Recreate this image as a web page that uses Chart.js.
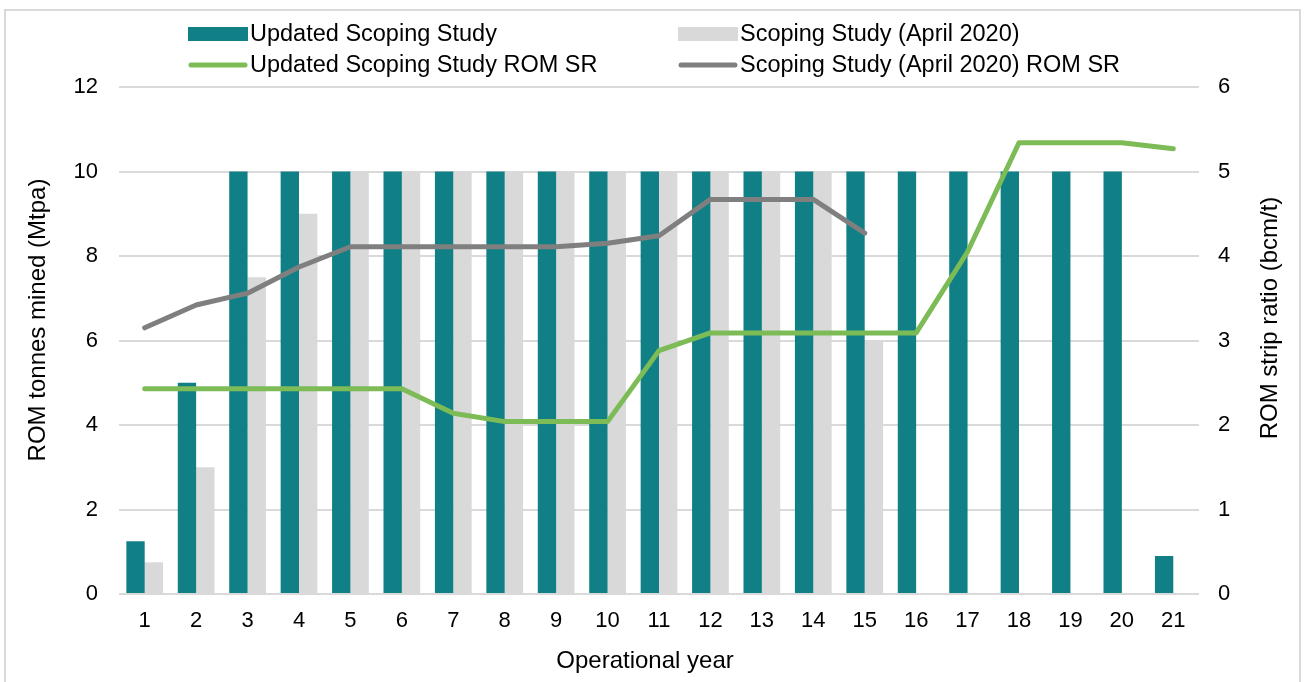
<!DOCTYPE html>
<html>
<head>
<meta charset="utf-8">
<script src="https://cdn.jsdelivr.net/npm/chart.js@4/dist/chart.umd.min.js"></script>
<style>
  html, body { margin: 0; padding: 0; background: #fff; overflow: hidden; }
  #wrap { position: relative; width: 1307px; height: 682px; }
  #frame { position: absolute; left: 4px; top: 9px; width: 1297px; height: 700px; border: 2px solid #d9d9d9; box-sizing: border-box; }
  canvas { position: absolute; left: 0; top: 0; }
</style>
</head>
<body>
<div id="wrap">
  <div id="frame"></div>
  <canvas id="c" width="1307" height="682"></canvas>
</div>
<script>
const years = ['1','2','3','4','5','6','7','8','9','10','11','12','13','14','15','16','17','18','19','20','21'];
const updatedTonnes = [1.25, 5, 10, 10, 10, 10, 10, 10, 10, 10, 10, 10, 10, 10, 10, 10, 10, 10, 10, 10, 0.9];
const scopingTonnes = [0.75, 3, 7.5, 9, 10, 10, 10, 10, 10, 10, 10, 10, 10, 10, 6, null, null, null, null, null, null];
const updatedSR = [2.43, 2.43, 2.43, 2.43, 2.43, 2.43, 2.14, 2.04, 2.04, 2.04, 2.88, 3.09, 3.09, 3.09, 3.09, 3.09, 4.05, 5.34, 5.34, 5.34, 5.27];
const scopingSR = [3.15, 3.42, 3.56, 3.87, 4.11, 4.11, 4.11, 4.11, 4.11, 4.15, 4.24, 4.67, 4.67, 4.67, 4.27, null, null, null, null, null, null];
const leftTicks = [0, 2, 4, 6, 8, 10, 12];
const rightTicks = [0, 1, 2, 3, 4, 5, 6];
const labels = {
  updated: 'Updated Scoping Study',
  scoping: 'Scoping Study (April 2020)',
  updatedSR: 'Updated Scoping Study ROM SR',
  scopingSR: 'Scoping Study (April 2020) ROM SR',
  xTitle: 'Operational year',
  yTitle: 'ROM tonnes mined (Mtpa)',
  y1Title: 'ROM strip ratio (bcm/t)'
};

const FONT = 'Liberation Sans, Arial, sans-serif';
const FS = 22;
const FS_LEG = 23.5;
const FS_TITLE = 24;
const TEAL = '#108086';
const LIGHT = '#d9d9d9';
const GREEN = '#7cbb55';
const GREY = '#7f7f7f';

const legendPlugin = {
  id: 'customLegend',
  afterDraw(chart) {
    const ctx = chart.ctx;
    const items = [
      { ds: 0, x: 188, y: 34 },
      { ds: 1, x: 678, y: 34 },
      { ds: 2, x: 188, y: 65 },
      { ds: 3, x: 678, y: 65 }
    ];
    ctx.save();
    ctx.font = FS_LEG + 'px ' + FONT;
    ctx.textBaseline = 'middle';
    ctx.textAlign = 'left';
    items.forEach(it => {
      const d = chart.data.datasets[it.ds];
      if (d.type === 'bar') {
        ctx.fillStyle = d.backgroundColor;
        ctx.fillRect(it.x, it.y - 7, 60, 14);
      } else {
        ctx.strokeStyle = d.borderColor;
        ctx.lineWidth = 5;
        ctx.lineCap = 'round';
        ctx.beginPath();
        ctx.moveTo(it.x + 3, it.y);
        ctx.lineTo(it.x + 57, it.y);
        ctx.stroke();
      }
      ctx.fillStyle = '#000';
      ctx.fillText(d.label, it.x + 62, it.y + 1);
    });
    // axis titles
    ctx.font = FS_TITLE + 'px ' + FONT;
    ctx.textAlign = 'center';
    ctx.save();
    ctx.translate(38, 320);
    ctx.rotate(-Math.PI / 2);
    ctx.fillText(labels.yTitle, 0, 0);
    ctx.restore();
    ctx.save();
    ctx.translate(1270, 318);
    ctx.rotate(-Math.PI / 2);
    ctx.fillText(labels.y1Title, 0, 0);
    ctx.restore();
    ctx.fillText(labels.xTitle, 645, 661);
    ctx.restore();
  }
};

new Chart(document.getElementById('c'), {
  data: {
    labels: years,
    datasets: [
      { type: 'bar', label: labels.updated, data: updatedTonnes, backgroundColor: TEAL, borderWidth: 0, yAxisID: 'y', order: 2, categoryPercentage: 0.714, barPercentage: 1.0 },
      { type: 'bar', label: labels.scoping, data: scopingTonnes, backgroundColor: LIGHT, borderWidth: 0, yAxisID: 'y', order: 2, categoryPercentage: 0.714, barPercentage: 1.0 },
      { type: 'line', label: labels.updatedSR, data: updatedSR, borderColor: GREEN, backgroundColor: GREEN, borderWidth: 5, pointRadius: 0, tension: 0, yAxisID: 'y1', order: 0, borderCapStyle: 'round', borderJoinStyle: 'round', spanGaps: false },
      { type: 'line', label: labels.scopingSR, data: scopingSR, borderColor: GREY, backgroundColor: GREY, borderWidth: 5, pointRadius: 0, tension: 0, yAxisID: 'y1', order: 0, borderCapStyle: 'round', borderJoinStyle: 'round', spanGaps: false }
    ]
  },
  options: {
    responsive: false,
    animation: false,
    devicePixelRatio: 1,
    layout: { padding: { top: 87, left: 0, right: 0, bottom: 0 } },
    plugins: { legend: { display: false }, tooltip: { enabled: false }, title: { display: false } },
    scales: {
      x: {
        grid: { display: false, drawTicks: false },
        border: { display: false },
        ticks: { font: { family: FONT, size: FS }, color: '#000', padding: 14, maxRotation: 0, autoSkip: false },
        afterFit(s) { s.height = 88; }
      },
      y: {
        position: 'left',
        min: 0, max: 12,
        afterBuildTicks(s) { s.ticks = leftTicks.map(v => ({ value: v })); },
        grid: { color: LIGHT, lineWidth: 2, drawTicks: false },
        border: { display: false },
        ticks: { font: { family: FONT, size: FS }, color: '#000', padding: 21 },
        afterFit(s) { s.width = 119; }
      },
      y1: {
        position: 'right',
        min: 0, max: 6,
        afterBuildTicks(s) { s.ticks = rightTicks.map(v => ({ value: v })); },
        grid: { display: false, drawTicks: false },
        border: { display: false },
        ticks: { font: { family: FONT, size: FS }, color: '#000', padding: 19 },
        afterFit(s) { s.width = 108; }
      }
    }
  },
  plugins: [legendPlugin]
});
</script>
</body>
</html>
